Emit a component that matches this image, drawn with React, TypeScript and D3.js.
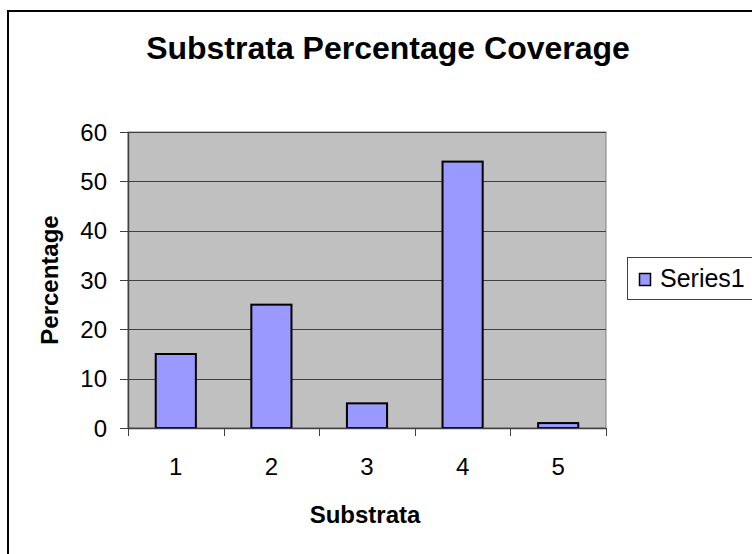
import React from "react";
import * as d3 from "d3";

const categories = ["1", "2", "3", "4", "5"];
const values = [15, 25, 5, 54, 1];
const yTicks = [0, 10, 20, 30, 40, 50, 60];
const title = "Substrata Percentage Coverage";
const xTitle = "Substrata";
const yTitle = "Percentage";
const seriesName = "Series1";

export default function App() {
  const W = 752, H = 554;
  const left = 128, right = 606, top = 132, bottom = 428;
  const x = d3.scaleBand<string>().domain(categories).range([left, right]).paddingInner(0.58).paddingOuter(0.29);
  const xb = d3.scaleBand<string>().domain(categories).range([left, right]);
  const y = d3.scaleLinear().domain([0, 60]).range([bottom, top]);
  const font = "'Liberation Sans', Arial, sans-serif";
  return (
    <svg width={W} height={H} style={{ position: "absolute", left: 0, top: 0 }} fontFamily={font}>
      <rect x={0} y={0} width={W} height={H} fill="#fff" />
      <rect x={8} y={11} width={W + 20} height={H + 20} fill="#fff" stroke="#000" strokeWidth={2} />
      <text x={388} y={59} textAnchor="middle" fontSize={32} fontWeight="bold">{title}</text>
      <rect x={left} y={top} width={right - left} height={bottom - top} fill="#C0C0C0" stroke="#808080" strokeWidth={1} />
      {yTicks.map((t) => (
        <g key={t}>
          {t > 0 && <line x1={left} x2={right} y1={Math.round(y(t)) + 0.5} y2={Math.round(y(t)) + 0.5} stroke="#404040" strokeWidth={1} />}
          <line x1={120} x2={left} y1={Math.round(y(t)) + 0.5} y2={Math.round(y(t)) + 0.5} stroke="#404040" strokeWidth={1} />
          <text x={107} y={y(t) + 8.5} textAnchor="end" fontSize={24}>{t}</text>
        </g>
      ))}
      {values.map((v, i) => (
        <rect key={i} x={x(categories[i])!} y={y(v)} width={x.bandwidth()} height={bottom - y(v)} fill="#9999FF" stroke="#000" strokeWidth={2} />
      ))}
      <line x1={left + 0.5} x2={left + 0.5} y1={top} y2={bottom} stroke="#404040" strokeWidth={1.5} />
      <line x1={left} x2={right} y1={bottom + 0.5} y2={bottom + 0.5} stroke="#404040" strokeWidth={1.5} />
      {[...categories.map((c) => xb(c)!), right].map((px, i) => (
        <line key={i} x1={Math.round(px) + 0.5} x2={Math.round(px) + 0.5} y1={bottom} y2={bottom + 8} stroke="#404040" strokeWidth={1} />
      ))}
      {categories.map((c) => (
        <text key={c} x={xb(c)! + xb.bandwidth() / 2} y={475} textAnchor="middle" fontSize={24}>{c}</text>
      ))}
      <text x={365} y={523} textAnchor="middle" fontSize={24} fontWeight="bold">{xTitle}</text>
      <text transform={`translate(58,${(top + bottom) / 2}) rotate(-90)`} textAnchor="middle" fontSize={24} fontWeight="bold">{yTitle}</text>
      <rect x={627.5} y={257.5} width={140} height={42} fill="#fff" stroke="#404040" strokeWidth={1} />
      <rect x={639.5} y={273.5} width={11} height={12} fill="#9999FF" stroke="#000" strokeWidth={1.5} />
      <text x={660} y={287} fontSize={25}>{seriesName}</text>
    </svg>
  );
}
